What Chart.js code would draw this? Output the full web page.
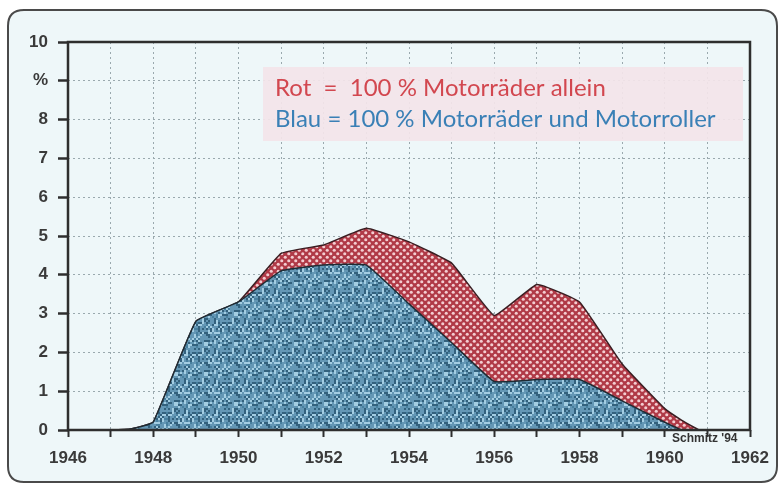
<!DOCTYPE html>
<html>
<head>
<meta charset="utf-8">
<script src="https://cdn.jsdelivr.net/npm/chart.js@4.4.0/dist/chart.umd.min.js"></script>
<style>
html,body{margin:0;padding:0;background:#ffffff;}
#wrap{width:783px;height:489px;position:relative;}
</style>
</head>
<body>
<div id="wrap"><canvas id="c" width="783" height="489"></canvas></div>
<script>
// ---- data ----
const years = [1946, 1947, 1947.5, 1948, 1949, 1950, 1951, 1952, 1953, 1954, 1955, 1956, 1957, 1958, 1959, 1960, 1960.4, 1960.8];
const motorraederUndRoller = [0, 0, 0.03, 0.2, 2.8, 3.3, 4.1, 4.25, 4.25, 3.25, 2.25, 1.25, 1.3, 1.3, 0.75, 0.2, 0, 0];
const motorraederAllein    = [0, 0, 0.03, 0.2, 2.8, 3.3, 4.55, 4.77, 5.2, 4.85, 4.3, 2.95, 3.75, 3.3, 1.7, 0.55, 0.25, 0];
const yTickLabels = ['0','1','2','3','4','5','6','7','8','%','10'];
const legendLines = ['Rot  =  100 % Motorräder allein', 'Blau = 100 % Motorräder und Motorroller'];
const signature = "Schmitz '94";

// ---- fill textures ----
function redPattern(ctx){
  const t = document.createElement('canvas'); t.width = 7; t.height = 7;
  const g = t.getContext('2d');
  g.fillStyle = '#b03a47'; g.fillRect(0,0,7,7);
  g.fillStyle = '#f3cdd1';
  [[1.75,1.75],[5.25,5.25]].forEach(p=>{g.beginPath();g.arc(p[0],p[1],1.55,0,Math.PI*2);g.fill();});
  return ctx.createPattern(t,'repeat');
}
function bluePattern(ctx){
  const t = document.createElement('canvas'); t.width = 30; t.height = 30;
  const g = t.getContext('2d');
  g.fillStyle = '#6497b5'; g.fillRect(0,0,30,30);
  for(let y=0;y<30;y+=2){for(let x=0;x<30;x+=2){
    const h = ((x*73856093) ^ (y*19349663) ^ ((x+y)*83492791)) >>> 0;
    const m = h % 9;
    if(m===0||m===3) g.fillStyle = '#33617d';
    else if(m===1||m===7) g.fillStyle = '#a3cde2';
    else if(m===5) g.fillStyle = '#48809f';
    else continue;
    g.fillRect(x,y,2,2);
  }}
  return ctx.createPattern(t,'repeat');
}

const canvas = document.getElementById('c');
const ctx0 = canvas.getContext('2d');

function rr(ctx,x,y,w,h,r){
  ctx.beginPath();
  ctx.moveTo(x+r,y);ctx.lineTo(x+w-r,y);ctx.quadraticCurveTo(x+w,y,x+w,y+r);
  ctx.lineTo(x+w,y+h-r);ctx.quadraticCurveTo(x+w,y+h,x+w-r,y+h);
  ctx.lineTo(x+r,y+h);ctx.quadraticCurveTo(x,y+h,x,y+h-r);
  ctx.lineTo(x,y+r);ctx.quadraticCurveTo(x,y,x+r,y);ctx.closePath();
}

const decor = {
  id:'decor',
  beforeDraw(chart){
    const c = chart.ctx;
    c.save();
    c.fillStyle = '#ffffff'; c.fillRect(0,0,chart.width,chart.height);
    rr(c,8,10,769,472,16);
    c.fillStyle = '#eef7f9'; c.fill();
    c.lineWidth = 2; c.strokeStyle = '#4a4a4a'; c.stroke();
    c.restore();
  },
  afterDatasetsDraw(chart){
    const c = chart.ctx, a = chart.chartArea;
    c.save();
    // axis frame
    c.strokeStyle = '#2e2e2e'; c.lineWidth = 2.5;
    c.strokeRect(a.left, a.top, a.right-a.left, a.bottom-a.top);
    // legend box
    c.fillStyle = 'rgba(243,228,233,0.93)';
    c.fillRect(263, 67, 480, 74);
    c.textBaseline = 'alphabetic';
    c.font = '24px Lato';
    c.fillStyle = '#d2474f';
    c.fillText(legendLines[0], 275, 96);
    c.fillStyle = '#3a80b6';
    c.fillText(legendLines[1], 275, 127);
    // signature
    c.font = 'bold 12px "Liberation Sans Narrow", "Liberation Sans"';
    c.fillStyle = '#333';
    c.fillText(signature, 672, 442);
    c.restore();
  }
};

new Chart(canvas, {
  type: 'line',
  data: {
    datasets: [
      {
        label: 'Motorräder und Motorroller',
        data: years.map((x,i)=>({x, y: motorraederUndRoller[i]})),
        backgroundColor: bluePattern(ctx0),
        borderColor: '#1f2b33',
        borderWidth: 1.5,
        pointRadius: 0,
        fill: 'origin',
        tension: 0.1
      },
      {
        label: 'Motorräder allein',
        data: years.map((x,i)=>({x, y: motorraederAllein[i]})),
        backgroundColor: redPattern(ctx0),
        borderColor: '#3a1e22',
        borderWidth: 1.5,
        pointRadius: 0,
        fill: '-1',
        tension: 0.1
      }
    ]
  },
  options: {
    responsive: false,
    animation: false,
    layout: { padding: { top: 42, right: 33, left: 0, bottom: 0 } },
    plugins: { legend: { display: false }, tooltip: { enabled: false } },
    scales: {
      x: {
        type: 'linear', min: 1946, max: 1962,
        afterFit(s){ s.height = 59; },
        ticks: {
          stepSize: 1, autoSkip: false, maxRotation: 0,
          callback: v => (v % 2 === 0 ? String(v) : ''),
          color: '#3a3a3a', font: { family: 'Liberation Sans', size: 17, weight: 'bold' }, padding: 11
        },
        grid: {
          color: '#9aa9ae', lineWidth: 1,
          tickColor: '#2e2e2e', tickWidth: 2, tickBorderDash: [], tickLength: 7
        },
        border: { display: false, dash: [2,3] }
      },
      y: {
        min: 0, max: 10,
        afterFit(s){ s.width = 68; },
        ticks: {
          stepSize: 1, autoSkip: false,
          callback: (v) => yTickLabels[v],
          color: '#3a3a3a', font: { family: 'Liberation Sans', size: 17, weight: 'bold' }, padding: 10
        },
        grid: {
          color: '#9aa9ae', lineWidth: 1,
          tickColor: '#2e2e2e', tickWidth: 2.5, tickBorderDash: [], tickLength: 10
        },
        border: { display: false, dash: [2,3] }
      }
    }
  },
  plugins: [decor]
});
</script>
</body>
</html>
